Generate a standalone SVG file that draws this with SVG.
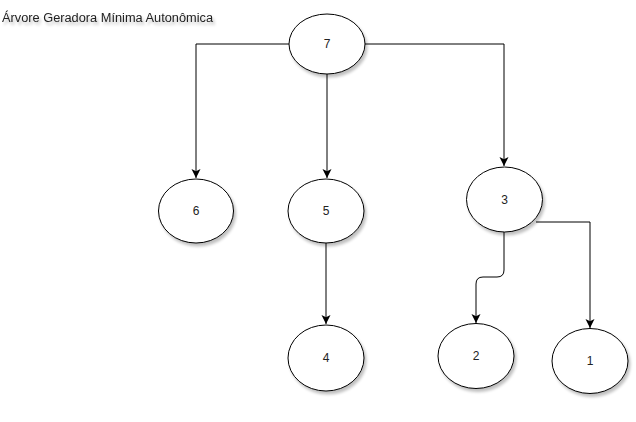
<svg xmlns="http://www.w3.org/2000/svg" width="636" height="422" viewBox="0 0 636 422">
<style>
.n{fill:#fff;stroke:#000;stroke-width:1;filter:url(#sh)}
.t{font-family:"Liberation Sans",Arial,sans-serif;font-size:12px;fill:#222;text-anchor:middle;dominant-baseline:central}
.e{fill:none;stroke:#000;stroke-width:1}
</style>
<defs>
<filter id="sh" x="-20%" y="-20%" width="150%" height="150%">
<feGaussianBlur in="SourceAlpha" stdDeviation="1.5"/>
<feOffset dx="2" dy="3" result="b"/>
<feComponentTransfer><feFuncA type="linear" slope="0.25"/></feComponentTransfer>
<feMerge><feMergeNode/><feMergeNode in="SourceGraphic"/></feMerge>
</filter>
<marker id="a" markerWidth="12" markerHeight="12" refX="9" refY="4.5" orient="auto" markerUnits="userSpaceOnUse">
<path d="M0,0 L9,4.5 L0,9 L2.2,4.5 Z" fill="#000"/>
</marker>
</defs>
<text x="2" y="22" font-family="Liberation Sans,Arial,sans-serif" font-size="12" fill="#222" textLength="211" lengthAdjust="spacingAndGlyphs" filter="url(#sh)">Árvore Geradora Mínima Autonômica</text>
<g id="edges">
<path class="e" d="M289,44 H196 V178" marker-end="url(#a)"/>
<path class="e" d="M327,74 V178" marker-end="url(#a)"/>
<path class="e" d="M365,44 H504 V166" marker-end="url(#a)"/>
<path class="e" d="M326,243 V324" marker-end="url(#a)"/>
<path class="e" d="M504,232 V270 Q504,277 497,277 H483 Q476,277 476,284 V323" marker-end="url(#a)"/>
<path class="e" d="M536,222 H590 V328" marker-end="url(#a)"/>
</g>
<g id="n7"><ellipse class="n" cx="327" cy="44" rx="38" ry="30"/><text class="t" x="327" y="44">7</text></g>
<g id="n6"><ellipse class="n" cx="196" cy="211" rx="37.5" ry="32"/><text class="t" x="196" y="211">6</text></g>
<g id="n5"><ellipse class="n" cx="326" cy="211" rx="38" ry="32"/><text class="t" x="326" y="211">5</text></g>
<g id="n3"><ellipse class="n" cx="504.5" cy="199.5" rx="38" ry="32.5"/><text class="t" x="504.5" y="199.5">3</text></g>
<g id="n4"><ellipse class="n" cx="326" cy="358" rx="38" ry="33"/><text class="t" x="326" y="358">4</text></g>
<g id="n2"><ellipse class="n" cx="476" cy="356" rx="38" ry="32.5"/><text class="t" x="476" y="356">2</text></g>
<g id="n1"><ellipse class="n" cx="590" cy="361" rx="38" ry="32.5"/><text class="t" x="590" y="361">1</text></g>
</svg>
